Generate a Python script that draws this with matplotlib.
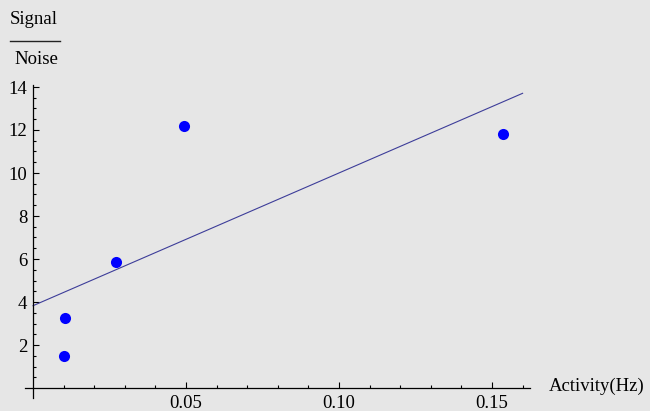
import numpy as np
import matplotlib
matplotlib.use("Agg")
import matplotlib.pyplot as plt
from matplotlib.lines import Line2D

# Data
activity_hz = [0.0101, 0.0105, 0.0271, 0.0494, 0.1535]
signal_noise = [1.49, 3.26, 5.86, 12.19, 11.81]
fit_range = [0.0, 0.16]
x_major = [0.05, 0.10, 0.15]
x_labels = ["0.05", "0.10", "0.15"]
y_major = [2, 4, 6, 8, 10, 12, 14]
y_labels = ["2", "4", "6", "8", "10", "12", "14"]

bg = "#e6e6e6"
font = ["Liberation Serif", "DejaVu Serif"]
fs = 13.5

fig = plt.figure(figsize=(6.5, 4.11), dpi=100, facecolor=bg)
ax = fig.add_axes([0, 0, 1, 1], facecolor=bg)
ax.set_xlim(-33 / 3060, (650 - 33) / 3060)
ax.set_ylim(-23 / 21.5, 388 / 21.5)

# fit line
slope, intercept = np.polyfit(activity_hz, signal_noise, 1)
xf = np.array(fit_range)
ax.plot(xf, intercept + slope * xf, color="#3d3d99", lw=0.8, zorder=2)

ax.plot(activity_hz, signal_noise, "o", color="#0000ff", ms=8, mec="none", zorder=3)

for s in ["top", "right"]:
    ax.spines[s].set_visible(False)
ax.spines["left"].set_position(("data", 0))
ax.spines["bottom"].set_position(("data", 0))
ax.spines["left"].set_bounds(-0.47, 14.1)
ax.spines["bottom"].set_bounds(-0.0026, 0.1625)
for s in ["left", "bottom"]:
    ax.spines[s].set_linewidth(0.9)
    ax.spines[s].set_color("black")

ax.set_xticks(x_major)
ax.set_xticklabels(x_labels, fontfamily=font, fontsize=fs)
ax.set_xticks(np.arange(0.01, 0.161, 0.01), minor=True)
ax.set_yticks(y_major)
ax.set_yticklabels(y_labels, fontfamily=font, fontsize=fs)
ax.set_yticks(np.arange(0.5, 14.01, 0.5), minor=True)
ax.tick_params(which="major", direction="in", length=4, width=0.8)
ax.tick_params(which="minor", direction="in", length=2.2, width=0.8)
ax.tick_params(axis="x", which="major", pad=5)
ax.tick_params(axis="y", which="major", pad=4)

fig.text(549 / 650, 1 - 386 / 411, "Activity(Hz)", fontfamily=font, fontsize=fs,
         ha="left", va="center")
fig.text(34 / 650, 1 - 20 / 411, "Signal", fontfamily=font, fontsize=fs,
         ha="center", va="center")
fig.text(36 / 650, 1 - 60 / 411, "Noise", fontfamily=font, fontsize=fs,
         ha="center", va="center")
fig.add_artist(Line2D([10 / 650, 60 / 650], [1 - 41 / 411, 1 - 41 / 411],
                      color="#222222", lw=1.0, transform=fig.transFigure))

fig.savefig("out.png", dpi=100, facecolor=bg)
